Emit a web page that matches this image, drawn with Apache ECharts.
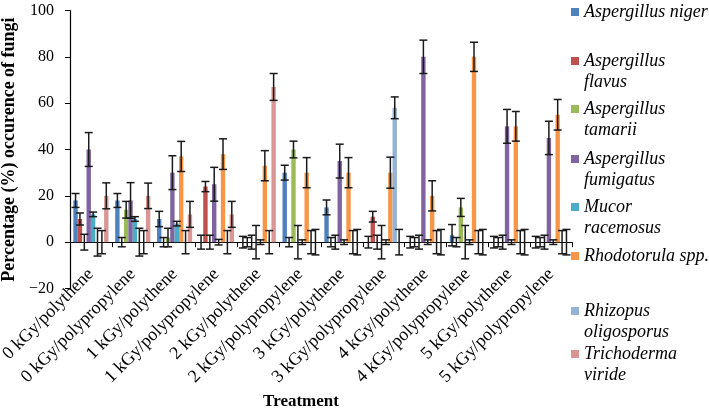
<!DOCTYPE html>
<html>
<head>
<meta charset="utf-8">
<script src="https://cdn.jsdelivr.net/npm/echarts@6/dist/echarts.min.js"></script>
<style>
html,body{margin:0;padding:0;background:#fff;}
#chart{width:709px;height:410px;}
</style>
</head>
<body>
<div id="chart"></div>
<script>
// ---- DATA ----
var categories = ['0 kGy/polythene','0 kGy/polypropylene','1 kGy/polythene','1 kGy/polypropylene','2 kGy/polythene','2 kGy/polypropylene','3 kGy/polythene','3 kGy/polypropylene','4 kGy/polythene','4 kGy/polypropylene','5 kGy/polythene','5 kGy/polypropylene'];
var seriesNames = ['Aspergillus niger','Aspergillus flavus','Aspergillus tamarii','Aspergillus fumigatus','Mucor racemosus','Rhodotorula spp.','Rhizopus oligosporus','Trichoderma viride'];
var legendLabels = ['Aspergillus niger','Aspergillus\nflavus','Aspergillus\ntamarii','Aspergillus\nfumigatus','Mucor\nracemosus','Rhodotorula spp.','Rhizopus\noligosporus','Trichoderma\nviride'];

var nigerValues       = [18, 18, 10, 0, 0, 30, 15, 0, 0, 3, 0, 0];
var flavusValues      = [10, 0, 0, 24, 0, 0, 0, 11, 0, 0, 0, 0];
var tamariiValues     = [0, 14, 2, 0, 0, 40, 0, 0, 0, 15, 0, 0];
var fumigatusValues   = [40, 18, 30, 25, 0, 0, 35, 0, 80, 0, 50, 45];
var mucorValues       = [12, 10, 8, 0, 0, 0, 0, 0, 0, 0, 0, 0];
var rhodotorulaValues = [0, 0, 37, 38, 33, 30, 30, 30, 20, 80, 50, 55];
var rhizopusValues    = [0, 0, 0, 0, 0, 0, 0, 58, 0, 0, 0, 0];
var trichodermaValues = [20, 20, 12, 12, 67, 0, 0, 0, 0, 0, 0, 0];

var nigerErr       = [3, 3, 3.3, 3, 2.5, 3.2, 3.2, 2.5, 2.5, 4.6, 2.5, 2.5];
var flavusErr      = [2.6, 2, 2, 2.2, 2, 2, 2, 2.3, 2, 2, 2, 2];
var tamariiErr     = [3.4, 3.6, 4, 3, 3, 3.6, 3, 3, 3, 3.9, 3, 3];
var fumigatusErr   = [7.3, 7.7, 7.3, 7.3, 7.2, 7.2, 7.3, 7.2, 7.2, 7.2, 7.3, 7.2];
var mucorErr       = [1, 1, 1, 1.2, 1, 1, 1, 1, 1, 1, 1, 1];
var rhodotorulaErr = [6, 6, 6.5, 6.6, 6.5, 6.5, 6.5, 6.7, 6.5, 6.3, 6.4, 6.6];
var rhizopusErr    = [5, 5, 5, 5, 5, 5, 5, 4.7, 5, 5, 5, 5];
var trichodermaErr = [5.6, 5.5, 5.6, 5.6, 5.8, 5.5, 5.5, 5.5, 5.5, 5.5, 5.5, 5.5];

var yTicks = [-20, 0, 20, 40, 60, 80, 100];

// ---- STYLE ----
var colors = ['#4F81BD','#C0504D','#9BBB59','#8064A2','#4BACC6','#F79646','#95B3D7','#D99694'];
var allValues = [nigerValues, flavusValues, tamariiValues, fumigatusValues, mucorValues, rhodotorulaValues, rhizopusValues, trichodermaValues];
var allErr = [nigerErr, flavusErr, tamariiErr, fumigatusErr, mucorErr, rhodotorulaErr, rhizopusErr, trichodermaErr];
var legendIconY = [12, 61, 109, 159, 207, 256, 311, 354];

var CAT_GAP = 0.16;
var N = seriesNames.length;
var serif = "'Liberation Serif','Times New Roman',serif";
var LH = 21;

var series = [];
seriesNames.forEach(function (name, si) {
  series.push({
    name: name, type: 'bar', data: allValues[si],
    barGap: '0%', barCategoryGap: (CAT_GAP * 100) + '%',
    itemStyle: { color: colors[si] }, silent: true
  });
});
seriesNames.forEach(function (name, si) {
  series.push({
    name: name, type: 'custom', z: 10, silent: true,
    data: allValues[si].map(function (v, i) { return [i, v, allErr[si][i]]; }),
    encode: { x: 0, y: 1 },
    renderItem: function (params, api) {
      var ci = api.value(0), v = api.value(1), e = api.value(2);
      var band = api.size([1, 0])[0];
      var total = band * (1 - CAT_GAP);
      var bw = total / N;
      var cx = api.coord([ci, v])[0] - total / 2 + (si + 0.5) * bw;
      var yHi = api.coord([ci, v + e])[1];
      var yLo = api.coord([ci, v - e])[1];
      var hw = 4;
      var st = { stroke: '#1a1a1a', lineWidth: 1.5 };
      return { type: 'group', children: [
        { type: 'line', shape: { x1: cx, y1: yHi, x2: cx, y2: yLo }, style: st },
        { type: 'line', shape: { x1: cx - hw, y1: yHi, x2: cx + hw, y2: yHi }, style: st },
        { type: 'line', shape: { x1: cx - hw, y1: yLo, x2: cx + hw, y2: yLo }, style: st }
      ]};
    }
  });
});

var legends = seriesNames.map(function (name, si) {
  var two = legendLabels[si].indexOf('\n') >= 0;
  // two-line labels get a blank first line so the icon sits beside the first text line
  var txt = two ? ' \n' + legendLabels[si] : legendLabels[si];
  return {
    data: [name], orient: 'vertical', left: 571,
    top: legendIconY[si] - (two ? 1.5 * LH : 0.5 * LH),
    padding: 0, itemWidth: 8, itemHeight: 8, icon: 'rect',
    selectedMode: false,
    formatter: function () { return txt; },
    textStyle: {
      fontFamily: serif, fontStyle: 'italic', fontSize: 18, color: '#000',
      lineHeight: LH
    }
  };
});

var chart = echarts.init(document.getElementById('chart'));
chart.setOption({
  animation: false,
  color: colors,
  grid: { left: 70, right: 137, top: 10.5, bottom: 121.5, containLabel: false, outerBoundsMode: 'none' },
  legend: legends,
  xAxis: {
    type: 'category', data: categories,
    axisLine: { onZero: true, lineStyle: { color: '#000', width: 1.2 } },
    axisTick: { show: true, length: 5, lineStyle: { color: '#000' } },
    axisLabel: { interval: 0, rotate: 45, margin: -17, fontFamily: serif, fontSize: 18, color: '#000' },
    name: 'Treatment', nameLocation: 'middle', nameGap: 102,
    nameTextStyle: { fontFamily: serif, fontWeight: 'bold', fontSize: 17, color: '#000', padding: [0, 40, 0, 0] }
  },
  yAxis: {
    type: 'value', min: yTicks[0], max: yTicks[yTicks.length - 1], interval: 20,
    splitLine: { show: false },
    axisLine: { show: true, lineStyle: { color: '#000', width: 1.2 } },
    axisTick: { show: true, length: 5, lineStyle: { color: '#000' } },
    axisLabel: { margin: 16, fontFamily: serif, fontSize: 16, color: '#000',
      formatter: function (v) { return String(v).replace('-', '\u2212'); } },
    name: 'Percentage (%) occurence of fungi', nameLocation: 'middle', nameGap: 50,
    nameTextStyle: { fontFamily: serif, fontWeight: 'bold', fontSize: 18, color: '#000' }
  },
  series: series
});
</script>
</body>
</html>
